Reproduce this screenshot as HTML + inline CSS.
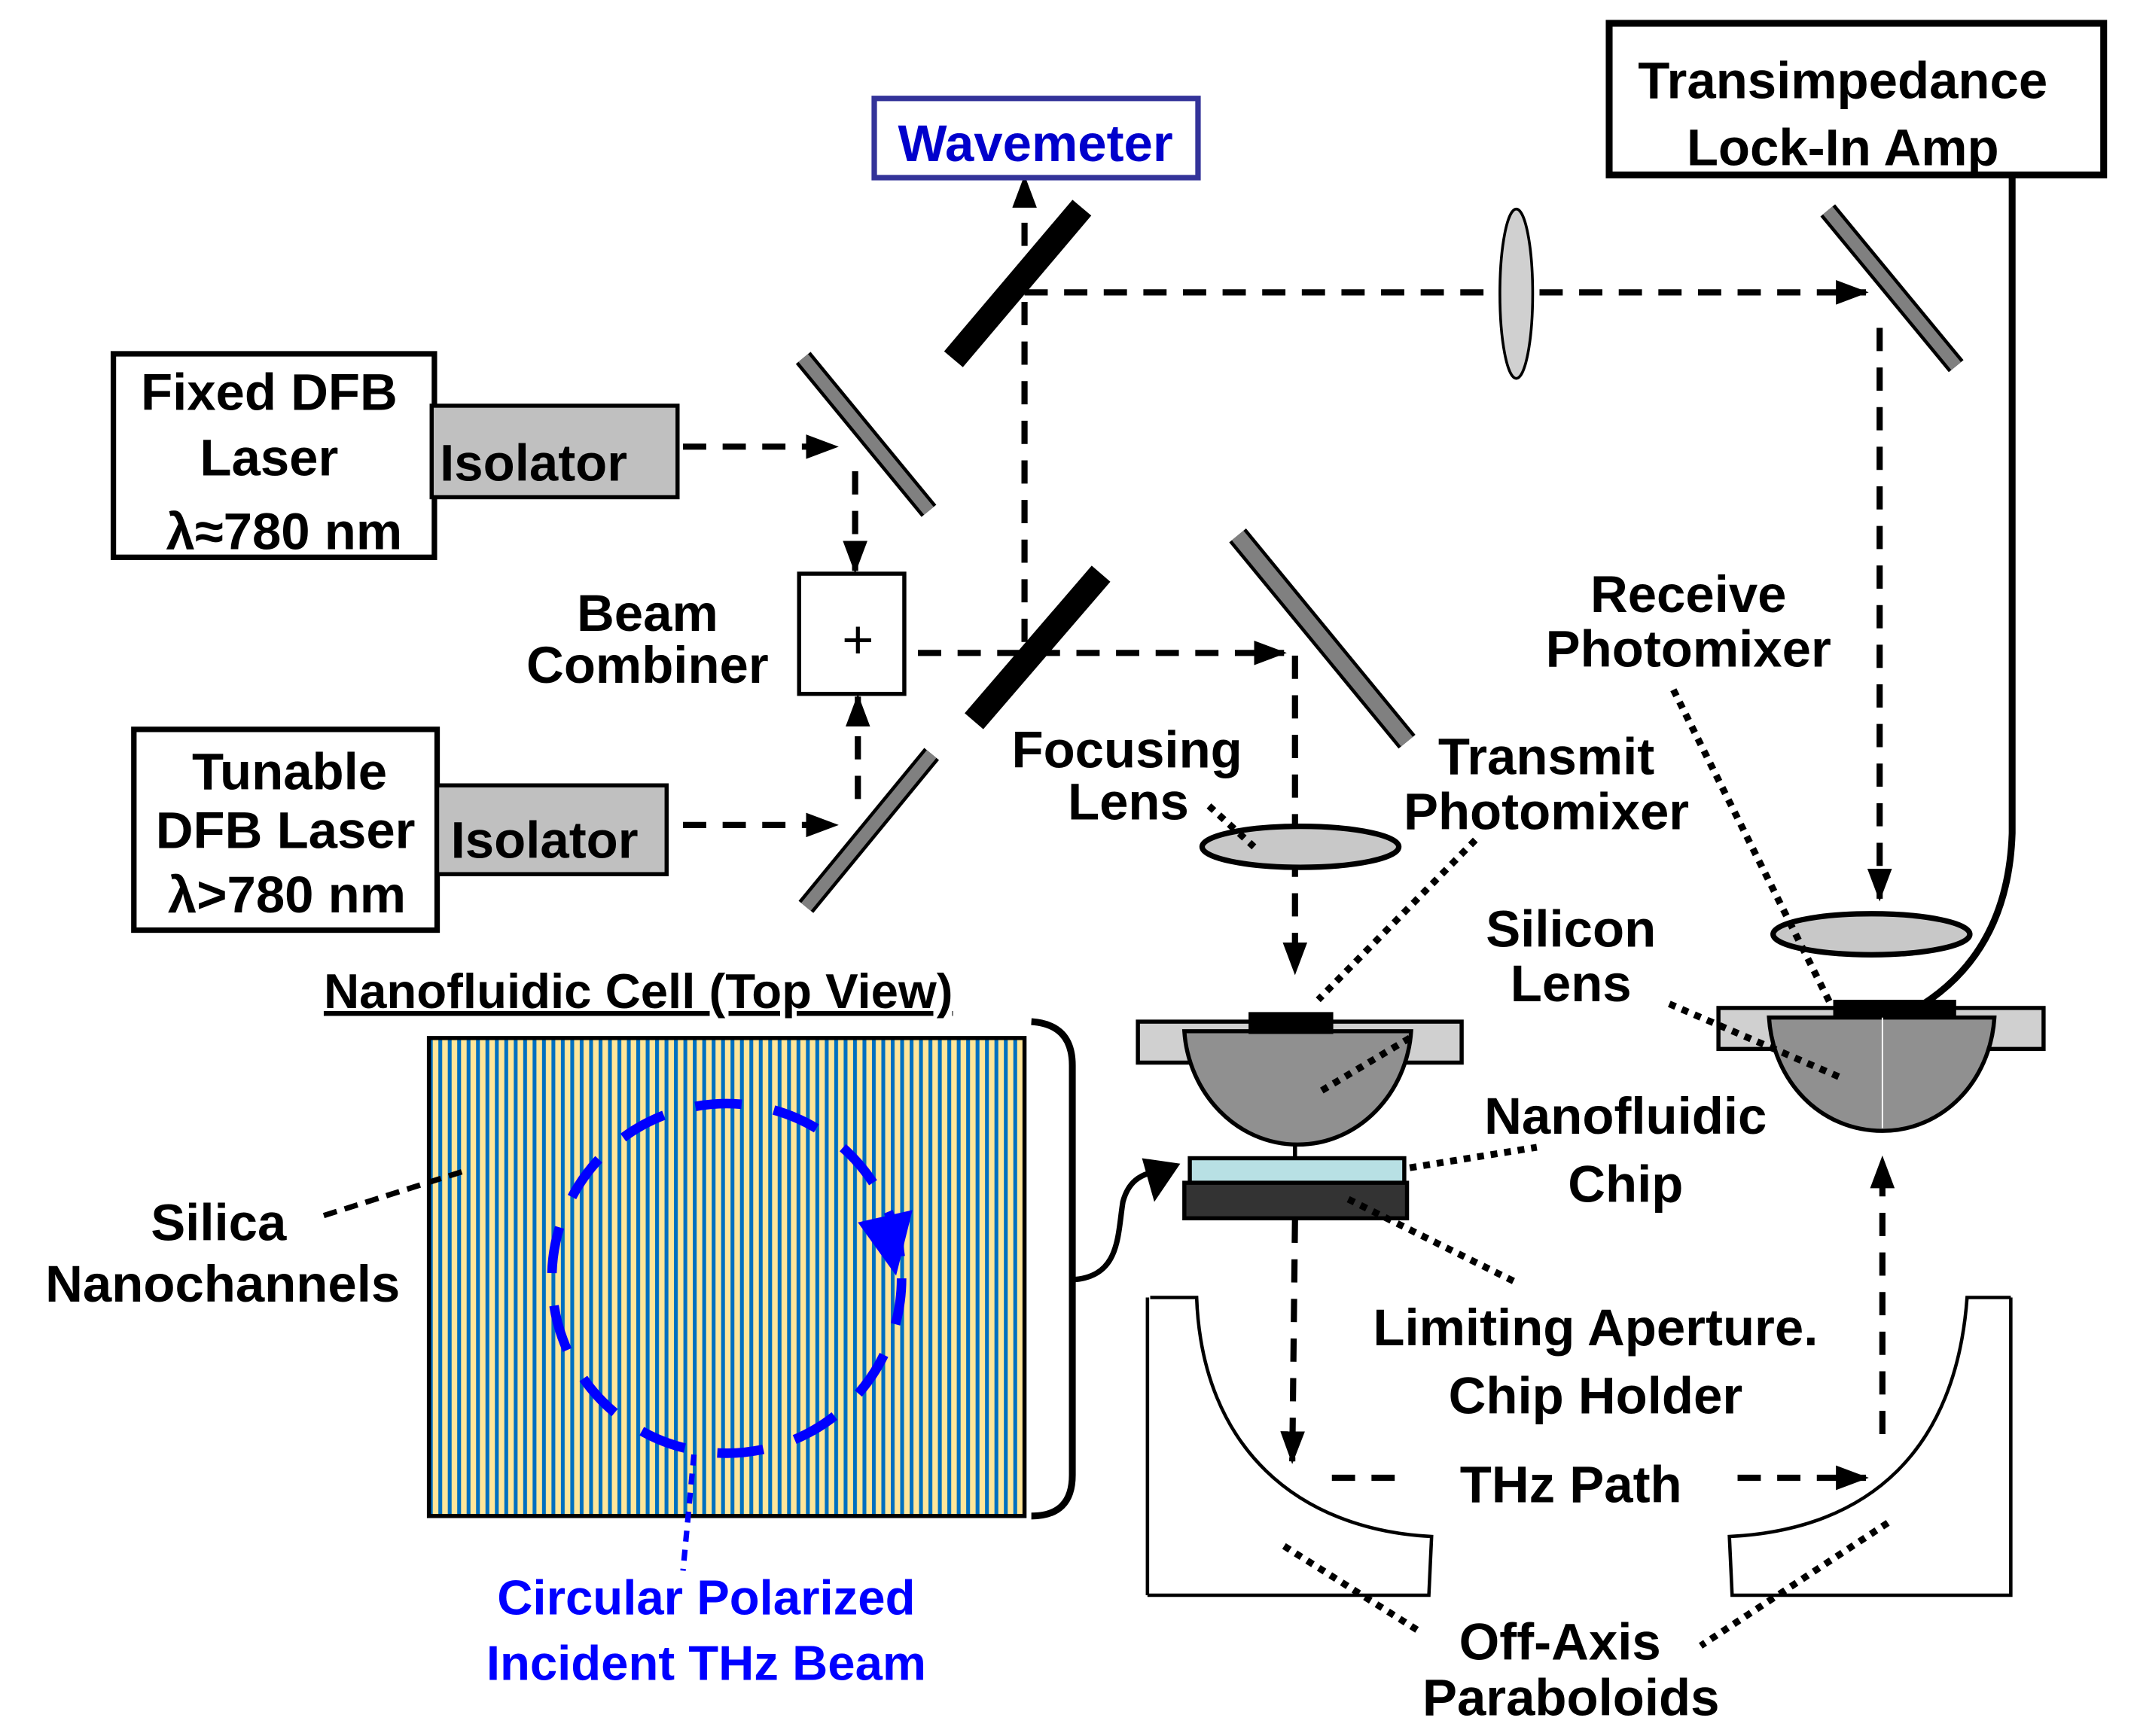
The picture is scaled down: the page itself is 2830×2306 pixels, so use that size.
<!DOCTYPE html>
<html><head><meta charset="utf-8"><style>
html,body{margin:0;padding:0;background:#fff}
svg{display:block}
text{font-family:"Liberation Sans",Arial,sans-serif;font-weight:bold;font-size:38px;fill:#000}
</style></head><body>
<svg width="2830" height="2306" viewBox="0 0 1560 1271" xmlns="http://www.w3.org/2000/svg">
<defs>
<marker id="ah" markerWidth="24" markerHeight="18" refX="22" refY="9" orient="auto" markerUnits="userSpaceOnUse"><path d="M0,0 L24,9 L0,18 Z" fill="#000"/></marker>
<pattern id="st" width="6.9" height="10" patternUnits="userSpaceOnUse" x="314"><rect width="6.9" height="10" fill="#ffe699"/><rect width="2.8" height="10" fill="#0070c0"/></pattern>
</defs>
<rect width="1560" height="1271" fill="#fff"/>
<g fill="none" stroke="#000" stroke-width="4.5" stroke-dasharray="17 12">
<path d="M500,327 L612,327" marker-end="url(#ah)"/>
<path d="M626,345 L626,418" marker-end="url(#ah)"/>
<path d="M500,604 L612,604" marker-end="url(#ah)"/>
<path d="M628,585 L628,510" marker-end="url(#ah)"/>
<path d="M672,478 L940,478" marker-end="url(#ah)"/>
<path d="M750,470 L750,130" marker-end="url(#ah)"/>
<path d="M750,214 L1366,214" marker-end="url(#ah)"/>
<path d="M1376,240 L1376,658" marker-end="url(#ah)"/>
<path d="M948,480 L948,712" marker-end="url(#ah)"/>
<path d="M948,893 L946,1070" marker-end="url(#ah)"/>
<path d="M1378,1050 L1378,848" marker-end="url(#ah)"/>
<path d="M975,1082 L1030,1082"/>
<path d="M1272,1082 L1366,1082" marker-end="url(#ah)"/>
</g>
<rect x="640" y="72" width="237" height="58" fill="#fff" stroke="#333399" stroke-width="4"/>
<text x="758" y="118" text-anchor="middle" style="fill:#0000cc">Wavemeter</text>
<rect x="1178" y="17" width="362" height="111" fill="#fff" stroke="#000" stroke-width="5"/>
<text x="1349" y="72" text-anchor="middle">Transimpedance</text>
<text x="1349" y="121" text-anchor="middle">Lock-In Amp</text>
<path d="M1473,128 L1473,610 Q1470,700 1400,740" fill="none" stroke="#000" stroke-width="5"/>
<rect x="83" y="259" width="235" height="149" fill="#fff" stroke="#000" stroke-width="4"/>
<text x="197" y="300" text-anchor="middle">Fixed DFB</text>
<text x="197" y="348" text-anchor="middle">Laser</text>
<text x="208" y="402" text-anchor="middle">λ≈780 nm</text>
<rect x="316" y="297" width="180" height="67" fill="#c0c0c0" stroke="#000" stroke-width="3"/>
<text x="322" y="352">Isolator</text>
<rect x="98" y="534" width="222" height="147" fill="#fff" stroke="#000" stroke-width="4"/>
<text x="212" y="578" text-anchor="middle">Tunable</text>
<text x="209" y="621" text-anchor="middle">DFB Laser</text>
<text x="210" y="668" text-anchor="middle">λ&gt;780 nm</text>
<rect x="320" y="575" width="168" height="65" fill="#c0c0c0" stroke="#000" stroke-width="3"/>
<text x="330" y="628">Isolator</text>
<g stroke-linecap="butt">
<line x1="588" y1="262" x2="680" y2="374" stroke="#000" stroke-width="14"/>
<line x1="588" y1="262" x2="680" y2="374" stroke="#808080" stroke-width="9"/>
<line x1="590" y1="664" x2="682" y2="552" stroke="#000" stroke-width="14"/>
<line x1="590" y1="664" x2="682" y2="552" stroke="#808080" stroke-width="9"/>
<line x1="1338" y1="154" x2="1432" y2="268" stroke="#000" stroke-width="14"/>
<line x1="1338" y1="154" x2="1432" y2="268" stroke="#808080" stroke-width="9"/>
<line x1="906" y1="392" x2="1030" y2="543" stroke="#000" stroke-width="16"/>
<line x1="906" y1="392" x2="1030" y2="543" stroke="#808080" stroke-width="11"/>
<line x1="698" y1="263" x2="792" y2="152" stroke="#000" stroke-width="18"/>
<line x1="713" y1="528" x2="806" y2="420" stroke="#000" stroke-width="18"/>
</g>
<rect x="585" y="420" width="77" height="88" fill="#fff" stroke="#000" stroke-width="3"/>
<text x="628" y="482" text-anchor="middle" style="font-weight:normal;font-size:40px">+</text>
<text x="474" y="462" text-anchor="middle">Beam</text>
<text x="474" y="500" text-anchor="middle">Combiner</text>
<ellipse cx="1110" cy="215" rx="12" ry="62" fill="#d0d0d0" stroke="#000" stroke-width="2"/>
<ellipse cx="952" cy="620" rx="72" ry="15" fill="#c8c8c8" stroke="#000" stroke-width="4"/>
<ellipse cx="1370" cy="684" rx="72" ry="15" fill="#c8c8c8" stroke="#000" stroke-width="4"/>
<text x="825" y="562" text-anchor="middle">Focusing</text>
<text x="826" y="600" text-anchor="middle">Lens</text>
<text x="1132" y="567" text-anchor="middle">Transmit</text>
<text x="1132" y="607" text-anchor="middle">Photomixer</text>
<text x="1236" y="448" text-anchor="middle">Receive</text>
<text x="1236" y="488" text-anchor="middle">Photomixer</text>
<text x="1150" y="693" text-anchor="middle">Silicon</text>
<text x="1150" y="733" text-anchor="middle">Lens</text>
<text x="1190" y="830" text-anchor="middle">Nanofluidic</text>
<text x="1190" y="880" text-anchor="middle">Chip</text>
<text x="1168" y="985" text-anchor="middle">Limiting Aperture.</text>
<text x="1168" y="1035" text-anchor="middle">Chip Holder</text>
<text x="1150" y="1100" text-anchor="middle">THz Path</text>
<text x="1142" y="1215" text-anchor="middle">Off-Axis</text>
<text x="1150" y="1256" text-anchor="middle">Paraboloids</text>
<rect x="833" y="748" width="237" height="30" fill="#d0d0d0" stroke="#000" stroke-width="3"/>
<path d="M867,755 L1033,755 C1030,800 995,838 950,838 C905,838 870,800 867,755 Z" fill="#909090" stroke="#000" stroke-width="3"/>
<rect x="914" y="741" width="62" height="16" fill="#000"/>
<line x1="948" y1="838" x2="948" y2="848" stroke="#000" stroke-width="3"/>
<rect x="871" y="848" width="157" height="18" fill="#b8e0e4" stroke="#000" stroke-width="3"/>
<rect x="867" y="866" width="163" height="26" fill="#333" stroke="#000" stroke-width="3"/>
<rect x="1258" y="738" width="238" height="30" fill="#d0d0d0" stroke="#000" stroke-width="3"/>
<path d="M1295,745 L1460,745 C1457,792 1422,828 1378,828 C1333,828 1298,792 1295,745 Z" fill="#909090" stroke="#000" stroke-width="3"/>
<line x1="1378" y1="745" x2="1378" y2="826" stroke="#fff" stroke-width="1"/>
<rect x="1342" y="732" width="90" height="13" fill="#000"/>
<path d="M840,1168 L840,950 M842,950 L876,950 C880,1060 950,1120 1048,1125 L1046,1168 L840,1168" fill="none" stroke="#000" stroke-width="2.5"/>
<path d="M1472,950 L1472,1168 L1268,1168 L1266,1125 C1370,1120 1432,1060 1440,950 L1472,950" fill="none" stroke="#000" stroke-width="2.5"/>
<g fill="none" stroke="#000" stroke-width="5" stroke-dasharray="5 5">
<path d="M885,590 L918,620"/>
<path d="M1080,615 L965,732"/>
<path d="M1225,505 L1340,735"/>
<path d="M1032,760 L965,800"/>
<path d="M1222,735 L1350,790"/>
<path d="M1032,855 L1125,840"/>
<path d="M987,878 L1112,940"/>
<path d="M940,1132 L1040,1195"/>
<path d="M1382,1115 L1245,1205"/>
</g>
<text x="237" y="738" style="font-size:36px" text-decoration="underline">Nanofluidic Cell (Top View)</text>
<rect x="314" y="760" width="436" height="350" fill="url(#st)" stroke="#000" stroke-width="3"/>
<path d="M755,748 Q785,750 785,780 L785,1080 Q785,1110 755,1110" fill="none" stroke="#000" stroke-width="5"/>
<path d="M785,937 C820,935 818,905 822,880 C826,865 835,860 845,858" fill="none" stroke="#000" stroke-width="4"/>
<path d="M836,848 L864,852 L845,880 Z" fill="#000"/>
<circle cx="532" cy="936" r="128" fill="none" stroke="#0000ff" stroke-width="7" stroke-dasharray="34 24"/>
<path d="M628,895 L668,886 L656,934 Z" fill="#0000ff"/>
<path d="M508,1065 L500,1150" fill="none" stroke="#0000ff" stroke-width="4" stroke-dasharray="8 6"/>
<text x="517" y="1182" text-anchor="middle" style="fill:#0000ff;font-size:36px">Circular Polarized</text>
<text x="517" y="1230" text-anchor="middle" style="fill:#0000ff;font-size:36px">Incident THz Beam</text>
<text x="160" y="908" text-anchor="middle">Silica</text>
<text x="163" y="953" text-anchor="middle">Nanochannels</text>
<path d="M237,890 L338,858" fill="none" stroke="#000" stroke-width="4" stroke-dasharray="10 6"/>
</svg>
</body></html>
